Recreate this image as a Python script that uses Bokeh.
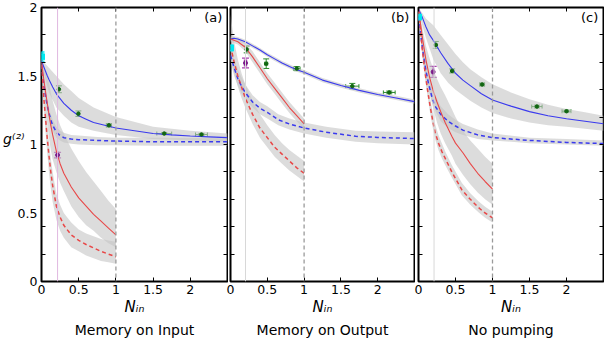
from bokeh.plotting import figure
from bokeh.layouts import row
from bokeh.models import (Range1d, FixedTicker, Label, Span, ColumnDataSource,
                          Whisker, TeeHead, LinearAxis, Title)
from bokeh.embed import file_html
from bokeh.resources import INLINE

FONT = "DejaVu Sans"

# ---------------- axes / ticks ----------------
x_ticks = [0, 0.5, 1, 1.5, 2]
x_tick_labels = ["0", "0.5", "1", "1.5", "2"]
y_ticks = [0, 0.5, 1, 1.5, 2]
y_tick_labels = ["0", "0.5", "1", "1.5", "2"]
y_minor = [0.2, 0.4, 0.6, 0.8, 1.0, 1.2, 1.4, 1.6, 1.8]
y_axis_title = "g⁽²⁾"
x_axis_title = "Nᵢₙ"
panel_tags = ["(a)", "(b)", "(c)"]
panel_titles = ["Memory on Input", "Memory on Output", "No pumping"]

# ---------------- panel (a): Memory on Input ----------------
a_bs_x = [0, 0.025, 0.05, 0.075, 0.1, 0.15, 0.2, 0.25, 0.3, 0.4, 0.5, 0.6, 0.7, 0.85, 1.0, 1.25, 1.5, 1.75, 2.0, 2.25, 2.5]
a_bs_y = [1.61, 1.575, 1.54, 1.505, 1.475, 1.42, 1.37, 1.335, 1.30, 1.25, 1.21, 1.185, 1.16, 1.14, 1.12, 1.10, 1.08, 1.07, 1.062, 1.056, 1.05]
a_bs_band_x = [0, 0.1, 0.2, 0.3, 0.4, 0.5, 0.7, 1.0, 1.5, 2.0, 2.5]
a_bs_hi = [1.62, 1.56, 1.50, 1.44, 1.39, 1.34, 1.27, 1.20, 1.13, 1.10, 1.08]
a_bs_lo = [1.58, 1.38, 1.27, 1.21, 1.16, 1.13, 1.10, 1.07, 1.04, 1.03, 1.02]

a_bd_x = [0, 0.025, 0.05, 0.075, 0.1, 0.125, 0.15, 0.2, 0.25, 0.3, 0.4, 0.5, 0.75, 1.0, 1.5, 2.0, 2.5]
a_bd_y = [1.58, 1.46, 1.37, 1.29, 1.23, 1.18, 1.14, 1.09, 1.065, 1.05, 1.04, 1.035, 1.03, 1.025, 1.02, 1.02, 1.02]
a_bd_hi = [1.60, 1.50, 1.41, 1.33, 1.27, 1.22, 1.18, 1.13, 1.10, 1.085, 1.07, 1.065, 1.055, 1.05, 1.05, 1.048, 1.045]
a_bd_lo = [1.55, 1.42, 1.33, 1.25, 1.19, 1.14, 1.10, 1.05, 1.03, 1.015, 1.005, 1.0, 0.995, 0.995, 0.99, 0.99, 0.99]

a_rs_x = [0, 0.025, 0.05, 0.075, 0.1, 0.125, 0.15, 0.2, 0.25, 0.3, 0.4, 0.5, 0.6, 0.7, 0.8, 0.9, 1.0]
a_rs_y = [1.60, 1.50, 1.40, 1.31, 1.22, 1.14, 1.07, 0.95, 0.86, 0.79, 0.69, 0.61, 0.55, 0.49, 0.44, 0.39, 0.34]
a_rs_hi = [1.62, 1.57, 1.53, 1.49, 1.45, 1.38, 1.32, 1.22, 1.14, 1.08, 0.97, 0.88, 0.80, 0.73, 0.66, 0.59, 0.53]
a_rs_lo = [1.58, 1.43, 1.28, 1.16, 1.05, 0.96, 0.89, 0.80, 0.72, 0.66, 0.55, 0.47, 0.41, 0.37, 0.32, 0.28, 0.25]

a_rd_x = [0, 0.025, 0.05, 0.075, 0.1, 0.125, 0.15, 0.2, 0.25, 0.3, 0.4, 0.5, 0.6, 0.7, 0.8, 0.9, 1.0]
a_rd_y = [1.58, 1.38, 1.22, 1.06, 0.92, 0.80, 0.70, 0.55, 0.47, 0.41, 0.34, 0.30, 0.27, 0.245, 0.22, 0.20, 0.18]
a_rd_hi = [1.60, 1.44, 1.30, 1.15, 1.02, 0.90, 0.80, 0.64, 0.56, 0.50, 0.43, 0.38, 0.35, 0.33, 0.31, 0.30, 0.29]
a_rd_lo = [1.55, 1.30, 1.12, 0.95, 0.80, 0.68, 0.58, 0.45, 0.37, 0.32, 0.25, 0.22, 0.19, 0.17, 0.15, 0.14, 0.13]

a_green_x = [0.234, 0.496, 0.906, 1.65, 2.15]
a_green_y = [1.403, 1.225, 1.140, 1.080, 1.073]
a_green_yerr = [0.025, 0.02, 0.012, 0.008, 0.008]
a_green_xerr = [0.01, 0.015, 0.035, 0.10, 0.08]
a_mag = (0.216, 0.923, 0.02, 0.012)      # x, y, yerr, xerr
a_cyan = (0.0, 1.64, 0.035)              # x, y, yerr
a_mark_x = 0.216

# ---------------- panel (b): Memory on Output ----------------
b_bs_x = [0, 0.05, 0.1, 0.2, 0.3, 0.4, 0.5, 0.6, 0.7, 0.8, 0.9, 1.0, 1.25, 1.5, 1.75, 2.0, 2.25, 2.5]
b_bs_y = [1.77, 1.775, 1.77, 1.75, 1.72, 1.69, 1.655, 1.625, 1.595, 1.57, 1.546, 1.528, 1.47, 1.43, 1.395, 1.365, 1.34, 1.313]
b_bs_hi = [1.785, 1.79, 1.785, 1.765, 1.735, 1.705, 1.67, 1.64, 1.61, 1.585, 1.56, 1.543, 1.485, 1.445, 1.41, 1.38, 1.355, 1.328]
b_bs_lo = [1.755, 1.76, 1.755, 1.735, 1.705, 1.675, 1.64, 1.61, 1.58, 1.555, 1.531, 1.513, 1.455, 1.415, 1.38, 1.35, 1.325, 1.298]

b_bd_x = [0, 0.05, 0.1, 0.15, 0.2, 0.3, 0.4, 0.5, 0.65, 0.8, 1.0, 1.3, 1.7, 2.0, 2.5]
b_bd_y = [1.65, 1.56, 1.48, 1.425, 1.38, 1.31, 1.265, 1.235, 1.18, 1.15, 1.12, 1.09, 1.06, 1.052, 1.043]
b_bd_hi = [1.70, 1.62, 1.55, 1.49, 1.44, 1.36, 1.31, 1.28, 1.22, 1.19, 1.16, 1.13, 1.10, 1.095, 1.09]
b_bd_lo = [1.60, 1.50, 1.43, 1.37, 1.33, 1.27, 1.22, 1.19, 1.14, 1.11, 1.08, 1.05, 1.02, 1.01, 1.00]

b_rs_x = [0, 0.1, 0.2, 0.3, 0.4, 0.5, 0.6, 0.7, 0.8, 0.9, 1.0]
b_rs_y = [1.77, 1.75, 1.71, 1.64, 1.56, 1.48, 1.41, 1.34, 1.27, 1.21, 1.15]
b_rs_hi = [1.79, 1.77, 1.74, 1.68, 1.60, 1.52, 1.45, 1.38, 1.31, 1.25, 1.19]
b_rs_lo = [1.75, 1.73, 1.68, 1.60, 1.52, 1.44, 1.37, 1.30, 1.23, 1.17, 1.11]

b_rd_x = [0, 0.05, 0.1, 0.15, 0.2, 0.3, 0.4, 0.5, 0.6, 0.7, 0.8, 0.9, 1.0]
b_rd_y = [1.72, 1.60, 1.50, 1.42, 1.34, 1.22, 1.12, 1.05, 0.98, 0.93, 0.88, 0.83, 0.79]
b_rd_hi = [1.95, 1.75, 1.62, 1.52, 1.44, 1.32, 1.22, 1.14, 1.07, 1.01, 0.96, 0.92, 0.88]
b_rd_lo = [1.62, 1.52, 1.42, 1.34, 1.27, 1.15, 1.05, 0.98, 0.91, 0.86, 0.81, 0.77, 0.73]

b_green_x = [0.22, 0.485, 0.90, 1.655, 2.157]
b_green_y = [1.694, 1.59, 1.554, 1.426, 1.38]
b_green_yerr = [0.025, 0.035, 0.015, 0.02, 0.01]
b_green_xerr = [0.01, 0.02, 0.045, 0.09, 0.08]
b_mag = (0.204, 1.595, 0.035, 0.015)
b_cyan = (0.0, 1.705, 0.02)
b_mark_x = 0.204

# ---------------- panel (c): No pumping ----------------
c_bs_x = [0, 0.05, 0.1, 0.15, 0.2, 0.3, 0.4, 0.5, 0.6, 0.7, 0.85, 1.0, 1.25, 1.5, 1.75, 2.0, 2.25, 2.5]
c_bs_y = [1.99, 1.93, 1.86, 1.80, 1.76, 1.67, 1.59, 1.52, 1.47, 1.43, 1.37, 1.325, 1.28, 1.24, 1.21, 1.188, 1.17, 1.152]
c_bs_hi = [2.0, 1.96, 1.92, 1.895, 1.87, 1.80, 1.73, 1.66, 1.60, 1.55, 1.49, 1.44, 1.38, 1.33, 1.29, 1.26, 1.235, 1.21]
c_bs_lo = [1.97, 1.87, 1.78, 1.70, 1.62, 1.52, 1.45, 1.40, 1.36, 1.32, 1.27, 1.23, 1.19, 1.16, 1.14, 1.13, 1.115, 1.10]

c_bd_x = [0, 0.03, 0.07, 0.1, 0.135, 0.18, 0.224, 0.3, 0.4, 0.5, 0.6, 0.8, 1.0, 1.5, 2.0, 2.5]
c_bd_y = [1.93, 1.80, 1.64, 1.54, 1.445, 1.35, 1.28, 1.22, 1.17, 1.135, 1.105, 1.07, 1.05, 1.03, 1.015, 1.007]
c_bd_hi = [1.95, 1.84, 1.69, 1.60, 1.50, 1.42, 1.36, 1.28, 1.22, 1.18, 1.15, 1.11, 1.08, 1.05, 1.04, 1.03]
c_bd_lo = [1.90, 1.76, 1.59, 1.48, 1.39, 1.31, 1.25, 1.17, 1.12, 1.09, 1.07, 1.04, 1.03, 1.01, 1.00, 0.99]

c_rs_x = [0, 0.05, 0.1, 0.15, 0.2, 0.25, 0.3, 0.36, 0.45, 0.5, 0.6, 0.7, 0.8, 0.9, 1.0]
c_rs_y = [1.99, 1.79, 1.62, 1.49, 1.39, 1.31, 1.24, 1.16, 1.06, 1.01, 0.94, 0.86, 0.79, 0.73, 0.675]
c_rs_hi = [2.0, 1.86, 1.72, 1.63, 1.55, 1.48, 1.42, 1.36, 1.26, 1.20, 1.10, 1.03, 0.97, 0.91, 0.86]
c_rs_lo = [1.97, 1.70, 1.52, 1.38, 1.26, 1.16, 1.08, 1.01, 0.92, 0.86, 0.78, 0.71, 0.65, 0.60, 0.56]

c_rd_x = [0, 0.02, 0.05, 0.09, 0.125, 0.157, 0.19, 0.224, 0.27, 0.315, 0.36, 0.45, 0.585, 0.7, 0.81, 0.9, 1.0]
c_rd_y = [1.97, 1.88, 1.70, 1.52, 1.39, 1.28, 1.18, 1.09, 1.01, 0.95, 0.90, 0.80, 0.67, 0.60, 0.54, 0.50, 0.465]
c_rd_hi = [1.99, 1.92, 1.76, 1.58, 1.45, 1.34, 1.24, 1.15, 1.07, 1.01, 0.95, 0.85, 0.72, 0.645, 0.585, 0.545, 0.51]
c_rd_lo = [1.95, 1.84, 1.65, 1.47, 1.34, 1.23, 1.13, 1.04, 0.96, 0.90, 0.85, 0.76, 0.63, 0.56, 0.505, 0.465, 0.43]

c_green_x = [0.234, 0.455, 0.86, 1.60, 2.0]
c_green_y = [1.727, 1.537, 1.438, 1.277, 1.243]
c_green_yerr = [0.025, 0.015, 0.01, 0.01, 0.008]
c_green_xerr = [0.015, 0.02, 0.03, 0.07, 0.06]
c_mag = (0.198, 1.53, 0.04, 0.01)
c_cyan = (0.0, 1.93, 0.012)
c_mark_x = 0.21

# ---------------- styles ----------------
BLUE = "#3a3aee"
RED = "#e84848"
GREEN = "#2a8a2a"
MAGENTA = "#a840b0"
CYAN = "#00e8f0"
BAND = "#c4c4c4"


def style_axis(ax, minor_only=False):
    ax.axis_line_color = None
    ax.major_tick_out = 0
    ax.minor_tick_out = 0
    ax.major_tick_line_color = "black"
    ax.minor_tick_line_color = "black"
    ax.major_label_text_font = FONT
    ax.major_label_text_font_size = "12.5px"
    ax.major_label_text_color = "black"
    if minor_only:
        ax.major_tick_in = 0
        ax.minor_tick_in = 4
    else:
        ax.major_tick_in = 4
        ax.minor_tick_in = 0


def tick_only_axis(minor_ticks):
    ax = LinearAxis(ticker=FixedTicker(ticks=[], minor_ticks=minor_ticks))
    ax.axis_line_color = None
    ax.major_tick_in = 0
    ax.major_tick_out = 0
    ax.minor_tick_in = 4
    ax.minor_tick_out = 0
    ax.minor_tick_line_color = "black"
    ax.major_label_standoff = 0
    return ax


def build(idx, d, width, border_left, margin_left):
    p = figure(width=width, height=339, x_range=Range1d(0, 2.5), y_range=Range1d(0, 2),
               output_backend="svg", toolbar_location=None, tools="",
               min_border_left=border_left, min_border_right=1,
               min_border_top=7, min_border_bottom=57,
               border_fill_color=None, background_fill_color="white",
               outline_line_color="black", outline_line_width=2)
    if margin_left:
        p.margin = (0, 0, 0, margin_left)
    p.grid.visible = False

    # bottom x axis
    xa = p.xaxis[0]
    xa.ticker = FixedTicker(ticks=x_ticks, minor_ticks=[])
    xa.major_label_overrides = dict(zip(x_ticks, x_tick_labels))
    style_axis(xa)
    xa.major_label_standoff = 3
    xa.axis_label = x_axis_title
    xa.axis_label_text_font = FONT
    xa.axis_label_text_font_style = "italic"
    xa.axis_label_text_font_size = "15px"
    xa.axis_label_text_color = "black"
    xa.axis_label_standoff = 1

    # left y axis
    if idx == 0:
        ya = p.yaxis[0]
        ya.ticker = FixedTicker(ticks=y_ticks, minor_ticks=y_minor)
        ya.major_label_overrides = dict(zip(y_ticks, y_tick_labels))
        style_axis(ya, minor_only=True)
        ya.major_label_standoff = 4
        # horizontal g(2) label as an outer axis with a single tick
        g_pos = 1.04
        ga = LinearAxis(ticker=FixedTicker(ticks=[g_pos], minor_ticks=[]))
        ga.major_label_overrides = {g_pos: y_axis_title}
        ga.axis_line_color = None
        ga.major_tick_in = 0
        ga.major_tick_out = 0
        ga.major_label_standoff = -10
        ga.major_label_text_font = FONT
        ga.major_label_text_font_style = "italic"
        ga.major_label_text_font_size = "14px"
        ga.major_label_text_color = "black"
        p.add_layout(ga, "left")
    else:
        p.yaxis.visible = False
        p.add_layout(tick_only_axis(y_minor), "left")

    # top / right ticks (no labels)
    p.add_layout(tick_only_axis(x_ticks), "above")
    p.add_layout(tick_only_axis(y_minor), "right")

    # bands
    for bx, lo, hi in d["bands"]:
        p.varea(x=bx, y1=lo, y2=hi, fill_color=BAND, fill_alpha=0.6)

    # reference lines
    p.add_layout(Span(location=d["mark_x"], dimension="height",
                      line_color=d["mark_color"], line_width=1))
    p.add_layout(Span(location=1.0, dimension="height", line_color="#9a9a9a",
                      line_width=1.3, line_dash="4 3"))

    # curves
    for cx, cy, color, dash, lw in d["curves"]:
        p.line(cx, cy, line_color=color, line_width=lw, line_dash=dash)

    # green data points
    gx, gy, gye, gxe = d["green"]
    gsrc = ColumnDataSource(dict(
        x=gx, y=gy,
        yl=[v - e for v, e in zip(gy, gye)], yu=[v + e for v, e in zip(gy, gye)],
        xl=[v - e for v, e in zip(gx, gxe)], xu=[v + e for v, e in zip(gx, gxe)]))
    p.add_layout(Whisker(source=gsrc, base="x", lower="yl", upper="yu", dimension="height",
                         line_color=GREEN, line_width=1,
                         upper_head=TeeHead(size=6, line_color=GREEN, line_width=1),
                         lower_head=TeeHead(size=6, line_color=GREEN, line_width=1)))
    p.add_layout(Whisker(source=gsrc, base="y", lower="xl", upper="xu", dimension="width",
                         line_color=GREEN, line_width=1,
                         upper_head=TeeHead(size=4, line_color=GREEN, line_width=1),
                         lower_head=TeeHead(size=4, line_color=GREEN, line_width=1)))
    p.scatter("x", "y", source=gsrc, size=3.5, fill_color="#116611", line_color="#116611")

    # magenta point
    mx, my, mye, mxe = d["mag"]
    msrc = ColumnDataSource(dict(x=[mx], y=[my], yl=[my - mye], yu=[my + mye],
                                 xl=[mx - mxe], xu=[mx + mxe]))
    p.add_layout(Whisker(source=msrc, base="x", lower="yl", upper="yu", dimension="height",
                         line_color=MAGENTA, line_width=1.2,
                         upper_head=TeeHead(size=7, line_color=MAGENTA, line_width=1.2),
                         lower_head=TeeHead(size=7, line_color=MAGENTA, line_width=1.2)))
    p.add_layout(Whisker(source=msrc, base="y", lower="xl", upper="xu", dimension="width",
                         line_color=MAGENTA, line_width=1.2,
                         upper_head=TeeHead(size=7, line_color=MAGENTA, line_width=1.2),
                         lower_head=TeeHead(size=7, line_color=MAGENTA, line_width=1.2)))
    p.scatter("x", "y", source=msrc, size=4, fill_color="#7a1a8a", line_color="#7a1a8a")

    # cyan point
    cx0, cy0, cye = d["cyan"]
    csrc = ColumnDataSource(dict(x=[cx0], y=[cy0], yl=[cy0 - cye], yu=[cy0 + cye]))
    p.add_layout(Whisker(source=csrc, base="x", lower="yl", upper="yu", dimension="height",
                         line_color=CYAN, line_width=1.5,
                         upper_head=TeeHead(size=6, line_color=CYAN, line_width=1.5),
                         lower_head=TeeHead(size=6, line_color=CYAN, line_width=1.5)))
    p.scatter("x", "y", source=csrc, size=6, marker="square", fill_color=CYAN, line_color=CYAN)

    # panel tag
    p.add_layout(Label(x=2.43, y=1.925, text=panel_tags[idx], text_align="right",
                       text_baseline="middle", text_font=FONT, text_font_size="13px",
                       text_color="black"))

    # bottom title
    p.add_layout(Title(text=panel_titles[idx], align="center", text_font=FONT,
                       text_font_size="14px", text_font_style="normal",
                       text_color="black", standoff=3, offset=0), "below")
    return p


panels = [
    dict(bands=[(a_bs_band_x, a_bs_lo, a_bs_hi), (a_bd_x, a_bd_lo, a_bd_hi),
                (a_rs_x, a_rs_lo, a_rs_hi), (a_rd_x, a_rd_lo, a_rd_hi)],
         curves=[(a_bs_x, a_bs_y, BLUE, "solid", 1.1), (a_bd_x, a_bd_y, BLUE, "4 3", 1.5),
                 (a_rs_x, a_rs_y, RED, "solid", 1.1), (a_rd_x, a_rd_y, RED, "4 3", 1.5)],
         green=(a_green_x, a_green_y, a_green_yerr, a_green_xerr),
         mag=a_mag, cyan=a_cyan, mark_x=a_mark_x, mark_color="#e0b8e0"),
    dict(bands=[(b_bs_x, b_bs_lo, b_bs_hi), (b_bd_x, b_bd_lo, b_bd_hi),
                (b_rs_x, b_rs_lo, b_rs_hi), (b_rd_x, b_rd_lo, b_rd_hi)],
         curves=[(b_bs_x, b_bs_y, BLUE, "solid", 1.1), (b_bd_x, b_bd_y, BLUE, "4 3", 1.5),
                 (b_rs_x, b_rs_y, RED, "solid", 1.1), (b_rd_x, b_rd_y, RED, "4 3", 1.5)],
         green=(b_green_x, b_green_y, b_green_yerr, b_green_xerr),
         mag=b_mag, cyan=b_cyan, mark_x=b_mark_x, mark_color="#d8d8d8"),
    dict(bands=[(c_bs_x, c_bs_lo, c_bs_hi), (c_bd_x, c_bd_lo, c_bd_hi),
                (c_rs_x, c_rs_lo, c_rs_hi), (c_rd_x, c_rd_lo, c_rd_hi)],
         curves=[(c_bs_x, c_bs_y, BLUE, "solid", 1.1), (c_bd_x, c_bd_y, BLUE, "4 3", 1.5),
                 (c_rs_x, c_rs_y, RED, "solid", 1.1), (c_rd_x, c_rd_y, RED, "4 3", 1.5)],
         green=(c_green_x, c_green_y, c_green_yerr, c_green_xerr),
         mag=c_mag, cyan=c_cyan, mark_x=c_mark_x, mark_color="#d8d8d8"),
]

pa = build(0, panels[0], 228, 41, 0)
pb = build(1, panels[1], 191, 6, -4)
pc = build(2, panels[2], 193, 7, -4)

layout = row(pa, pb, pc)
open("out.html", "w").write(file_html(layout, INLINE))
